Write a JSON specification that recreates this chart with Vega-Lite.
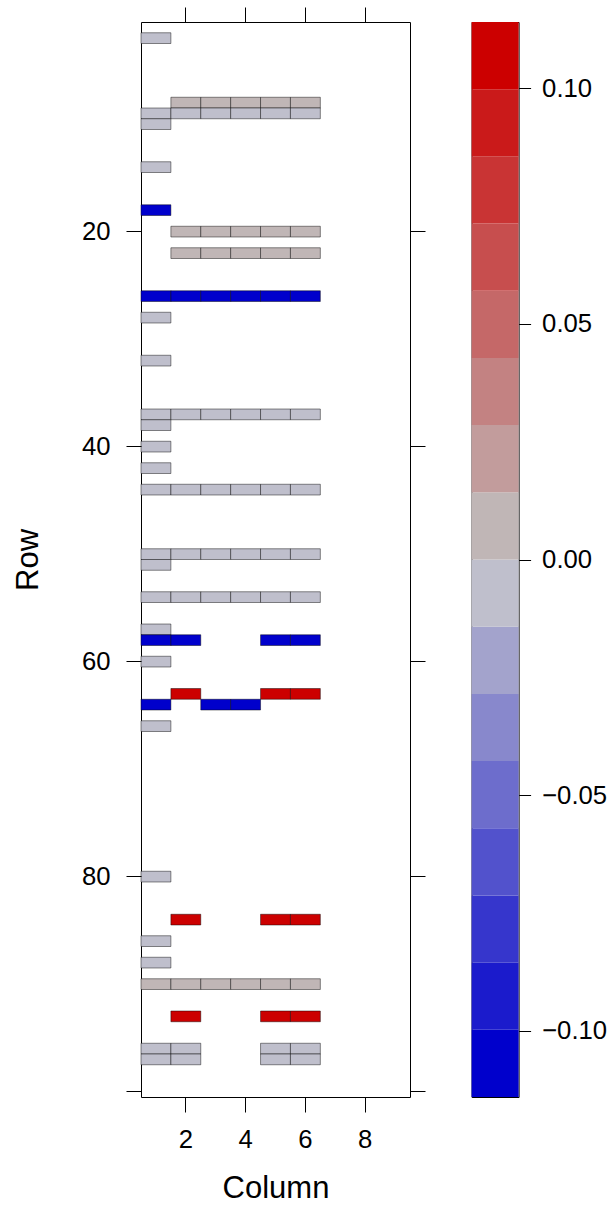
{
  "$schema": "https://vega.github.io/schema/vega-lite/v6.json",
  "autosize": {"type": "pad"},
  "padding": {"left": 11, "top": 6, "right": 0, "bottom": 0},
  "background": "white",
  "spacing": 61.6,
  "bounds": "flush",
  "config": {
    "font": "Liberation Sans",
    "view": {"stroke": "black", "strokeWidth": 1},
    "axis": {
      "domain": false,
      "grid": false,
      "tickColor": "black",
      "tickWidth": 1,
      "tickSize": 15,
      "labelColor": "black",
      "labelFontSize": 25.7,
      "labelFont": "Liberation Sans",
      "titleColor": "black",
      "titleFontSize": 31,
      "titleFontWeight": "normal",
      "titleFont": "Liberation Sans"
    }
  },
  "datasets": {
    "cells": [
      {"row": 2, "col": 1, "value": -0.005},
      {"row": 8, "col": 2, "value": 0.005},
      {"row": 8, "col": 3, "value": 0.005},
      {"row": 8, "col": 4, "value": 0.005},
      {"row": 8, "col": 5, "value": 0.005},
      {"row": 8, "col": 6, "value": 0.005},
      {"row": 9, "col": 1, "value": -0.005},
      {"row": 9, "col": 2, "value": -0.005},
      {"row": 9, "col": 3, "value": -0.005},
      {"row": 9, "col": 4, "value": -0.005},
      {"row": 9, "col": 5, "value": -0.005},
      {"row": 9, "col": 6, "value": -0.005},
      {"row": 10, "col": 1, "value": -0.005},
      {"row": 14, "col": 1, "value": -0.005},
      {"row": 18, "col": 1, "value": -0.11},
      {"row": 20, "col": 2, "value": 0.005},
      {"row": 20, "col": 3, "value": 0.005},
      {"row": 20, "col": 4, "value": 0.005},
      {"row": 20, "col": 5, "value": 0.005},
      {"row": 20, "col": 6, "value": 0.005},
      {"row": 22, "col": 2, "value": 0.005},
      {"row": 22, "col": 3, "value": 0.005},
      {"row": 22, "col": 4, "value": 0.005},
      {"row": 22, "col": 5, "value": 0.005},
      {"row": 22, "col": 6, "value": 0.005},
      {"row": 26, "col": 1, "value": -0.11},
      {"row": 26, "col": 2, "value": -0.11},
      {"row": 26, "col": 3, "value": -0.11},
      {"row": 26, "col": 4, "value": -0.11},
      {"row": 26, "col": 5, "value": -0.11},
      {"row": 26, "col": 6, "value": -0.11},
      {"row": 28, "col": 1, "value": -0.005},
      {"row": 32, "col": 1, "value": -0.005},
      {"row": 37, "col": 1, "value": -0.005},
      {"row": 37, "col": 2, "value": -0.005},
      {"row": 37, "col": 3, "value": -0.005},
      {"row": 37, "col": 4, "value": -0.005},
      {"row": 37, "col": 5, "value": -0.005},
      {"row": 37, "col": 6, "value": -0.005},
      {"row": 38, "col": 1, "value": -0.005},
      {"row": 40, "col": 1, "value": -0.005},
      {"row": 42, "col": 1, "value": -0.005},
      {"row": 44, "col": 1, "value": -0.005},
      {"row": 44, "col": 2, "value": -0.005},
      {"row": 44, "col": 3, "value": -0.005},
      {"row": 44, "col": 4, "value": -0.005},
      {"row": 44, "col": 5, "value": -0.005},
      {"row": 44, "col": 6, "value": -0.005},
      {"row": 50, "col": 1, "value": -0.005},
      {"row": 50, "col": 2, "value": -0.005},
      {"row": 50, "col": 3, "value": -0.005},
      {"row": 50, "col": 4, "value": -0.005},
      {"row": 50, "col": 5, "value": -0.005},
      {"row": 50, "col": 6, "value": -0.005},
      {"row": 51, "col": 1, "value": -0.005},
      {"row": 54, "col": 1, "value": -0.005},
      {"row": 54, "col": 2, "value": -0.005},
      {"row": 54, "col": 3, "value": -0.005},
      {"row": 54, "col": 4, "value": -0.005},
      {"row": 54, "col": 5, "value": -0.005},
      {"row": 54, "col": 6, "value": -0.005},
      {"row": 57, "col": 1, "value": -0.005},
      {"row": 58, "col": 1, "value": -0.11},
      {"row": 58, "col": 2, "value": -0.11},
      {"row": 58, "col": 5, "value": -0.11},
      {"row": 58, "col": 6, "value": -0.11},
      {"row": 60, "col": 1, "value": -0.005},
      {"row": 63, "col": 2, "value": 0.11},
      {"row": 63, "col": 5, "value": 0.11},
      {"row": 63, "col": 6, "value": 0.11},
      {"row": 64, "col": 1, "value": -0.11},
      {"row": 64, "col": 3, "value": -0.11},
      {"row": 64, "col": 4, "value": -0.11},
      {"row": 66, "col": 1, "value": -0.005},
      {"row": 80, "col": 1, "value": -0.005},
      {"row": 84, "col": 2, "value": 0.11},
      {"row": 84, "col": 5, "value": 0.11},
      {"row": 84, "col": 6, "value": 0.11},
      {"row": 86, "col": 1, "value": -0.005},
      {"row": 88, "col": 1, "value": -0.005},
      {"row": 90, "col": 1, "value": 0.005},
      {"row": 90, "col": 2, "value": 0.005},
      {"row": 90, "col": 3, "value": 0.005},
      {"row": 90, "col": 4, "value": 0.005},
      {"row": 90, "col": 5, "value": 0.005},
      {"row": 90, "col": 6, "value": 0.005},
      {"row": 93, "col": 2, "value": 0.11},
      {"row": 93, "col": 5, "value": 0.11},
      {"row": 93, "col": 6, "value": 0.11},
      {"row": 96, "col": 1, "value": -0.005},
      {"row": 96, "col": 2, "value": -0.005},
      {"row": 96, "col": 5, "value": -0.005},
      {"row": 96, "col": 6, "value": -0.005},
      {"row": 97, "col": 1, "value": -0.005},
      {"row": 97, "col": 2, "value": -0.005},
      {"row": 97, "col": 5, "value": -0.005},
      {"row": 97, "col": 6, "value": -0.005}
    ],
    "key": [
      {"lo": -0.1141, "hi": -0.09984, "value": -0.10697},
      {"lo": -0.09984, "hi": -0.08558, "value": -0.09271},
      {"lo": -0.08558, "hi": -0.07131, "value": -0.07844},
      {"lo": -0.07131, "hi": -0.05705, "value": -0.06418},
      {"lo": -0.05705, "hi": -0.04279, "value": -0.04992},
      {"lo": -0.04279, "hi": -0.02853, "value": -0.03566},
      {"lo": -0.02853, "hi": -0.01426, "value": -0.02139},
      {"lo": -0.01426, "hi": 0, "value": -0.00713},
      {"lo": 0, "hi": 0.01426, "value": 0.00713},
      {"lo": 0.01426, "hi": 0.02853, "value": 0.02139},
      {"lo": 0.02853, "hi": 0.04279, "value": 0.03566},
      {"lo": 0.04279, "hi": 0.05705, "value": 0.04992},
      {"lo": 0.05705, "hi": 0.07131, "value": 0.06418},
      {"lo": 0.07131, "hi": 0.08558, "value": 0.07844},
      {"lo": 0.08558, "hi": 0.09984, "value": 0.09271},
      {"lo": 0.09984, "hi": 0.1141, "value": 0.10697}
    ]
  },
  "hconcat": [
    {
      "width": 269,
      "height": 1075,
      "data": {"name": "cells"},
      "layer": [
        {
          "mark": {"type": "rect", "stroke": "black", "strokeOpacity": 0.45, "strokeWidth": 1},
          "encoding": {
            "x": {
              "field": "col", "type": "ordinal",
              "scale": {"domain": [1,2,3,4,5,6,7,8,9], "paddingInner": 0, "paddingOuter": 0},
              "axis": {"orient": "bottom", "values": [2,4,6,8], "labelAngle": 0, "labelPadding": 15, "title": "Column", "titlePadding": 22}
            },
            "y": {
              "field": "row", "type": "ordinal",
              "scale": {"domain": [1,2,3,4,5,6,7,8,9,10,11,12,13,14,15,16,17,18,19,20,21,22,23,24,25,26,27,28,29,30,31,32,33,34,35,36,37,38,39,40,41,42,43,44,45,46,47,48,49,50,51,52,53,54,55,56,57,58,59,60,61,62,63,64,65,66,67,68,69,70,71,72,73,74,75,76,77,78,79,80,81,82,83,84,85,86,87,88,89,90,91,92,93,94,95,96,97,98,99,100], "paddingInner": 0, "paddingOuter": 0},
              "axis": {"orient": "left", "values": [20,40,60,80,100], "labelExpr": "datum.value == 100 ? '' : datum.label", "labelPadding": 16, "title": "Row", "titlePadding": 37}
            },
            "color": {
              "field": "value", "type": "quantitative",
              "scale": {"type": "threshold",
                "domain": [-0.09984, -0.08558, -0.07131, -0.05705, -0.04279, -0.02853, -0.01426, 0, 0.01426, 0.02853, 0.04279, 0.05705, 0.07131, 0.08558, 0.09984],
                "range": ["#0000CC", "#1B1BCC", "#3636CC", "#5252CC", "#6D6DCC", "#8888CC", "#A3A3CC", "#BFBFCC", "#C0B6B6", "#C29C9C", "#C38282", "#C56868", "#C74E4E", "#C93434", "#CA1A1A", "#CC0000"]},
              "legend": null
            }
          }
        },
        {
          "mark": {"type": "rect", "opacity": 0},
          "encoding": {
            "x": {"field": "col", "type": "ordinal", "axis": {"orient": "top", "values": [2,4,6,8], "labels": false, "title": null}},
            "y": {"field": "row", "type": "ordinal", "axis": {"orient": "right", "values": [20,40,60,80,100], "labels": false, "title": null}}
          }
        }
      ],
      "resolve": {"axis": {"x": "independent", "y": "independent"}}
    },
    {
      "width": 47,
      "height": 1075,
      "data": {"name": "key"},
      "mark": {"type": "rect"},
      "encoding": {
        "y": {
          "field": "lo", "type": "quantitative",
          "scale": {"domain": [-0.1141, 0.1141], "nice": false, "zero": false},
          "axis": {"orient": "right", "values": [-0.1, -0.05, 0, 0.05, 0.1], "format": ".2f", "title": null, "tickSize": 12, "labelPadding": 11}
        },
        "y2": {"field": "hi"},
        "color": {
          "field": "value", "type": "quantitative",
          "scale": {"type": "threshold",
            "domain": [-0.09984, -0.08558, -0.07131, -0.05705, -0.04279, -0.02853, -0.01426, 0, 0.01426, 0.02853, 0.04279, 0.05705, 0.07131, 0.08558, 0.09984],
            "range": ["#0000CC", "#1B1BCC", "#3636CC", "#5252CC", "#6D6DCC", "#8888CC", "#A3A3CC", "#BFBFCC", "#C0B6B6", "#C29C9C", "#C38282", "#C56868", "#C74E4E", "#C93434", "#CA1A1A", "#CC0000"]},
          "legend": null
        }
      }
    }
  ]
}
